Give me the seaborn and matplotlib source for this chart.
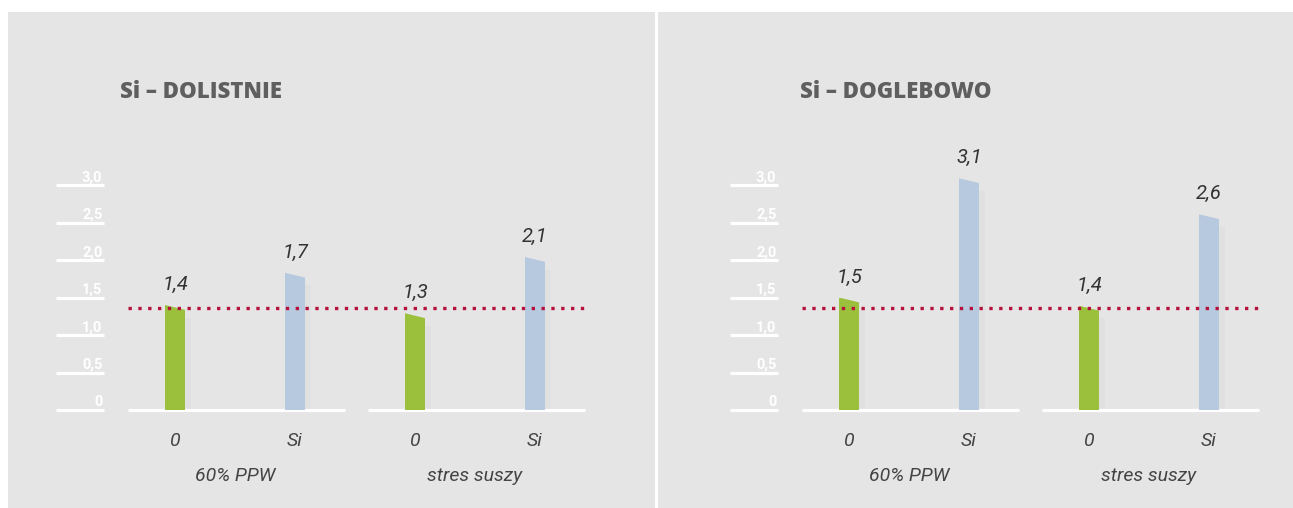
import matplotlib
matplotlib.use("Agg")
import matplotlib.pyplot as plt
from matplotlib.patches import Rectangle, Polygon
import seaborn as sns
import pandas as pd

# ---------------- data ----------------
groups = ["60% PPW", "60% PPW", "stres suszy", "stres suszy"]
treatments = ["0", "Si", "0", "Si"]
titles = ["Si – DOLISTNIE", "Si – DOGLEBOWO"]
heights_dolistnie = [1.40, 1.83, 1.29, 2.04]
heights_doglebowo = [1.50, 3.09, 1.39, 2.61]
labels_dolistnie = ["1,4", "1,7", "1,3", "2,1"]
labels_doglebowo = ["1,5", "3,1", "1,4", "2,6"]
ref_level = 1.36
y_ticks = [0, 0.5, 1.0, 1.5, 2.0, 2.5, 3.0]
y_tick_labels = ["0", "0,5", "1,0", "1,5", "2,0", "2,5", "3,0"]
group_names = ["60% PPW", "stres suszy"]

# ---------------- style ----------------
sns.set_theme(style="white")
plt.rcParams["font.family"] = ["Roboto", "DejaVu Sans"]

BG = "#e5e5e5"
GREEN = "#9bc13c"
BLUE = "#b7c9de"
RED = "#b5113c"
W, H = 1293, 508

fig = plt.figure(figsize=(W / 100, H / 100), dpi=100)
fig.patch.set_facecolor("white")

# panel backgrounds
fig.patches.append(Rectangle((8 / W, 0), 647 / W, (H - 12) / H,
                             transform=fig.transFigure, facecolor=BG,
                             edgecolor="none", zorder=-5))
fig.patches.append(Rectangle((658 / W, 0), (W - 658) / W, (H - 12) / H,
                             transform=fig.transFigure, facecolor=BG,
                             edgecolor="none", zorder=-5))

PX_X = 120.0   # pixels per category step
PX_Y = 75.0    # pixels per value unit
BASE_Y = 410   # pixel row of value 0

panels = [
    dict(left=50, right=620, x0=175, title_x=120,
         heights=heights_dolistnie, labels=labels_dolistnie, title=titles[0]),
    dict(left=722, right=1292, x0=849, title_x=800,
         heights=heights_doglebowo, labels=labels_doglebowo, title=titles[1]),
]

top_px = 130
for p in panels:
    ax = fig.add_axes([p["left"] / W, (H - BASE_Y) / H,
                       (p["right"] - p["left"]) / W, (BASE_Y - top_px) / H])
    ax.set_zorder(2)
    ax.set_facecolor("none")
    cats = [f"{g} · {t}" for g, t in zip(groups, treatments)]
    df = pd.DataFrame({"cat": cats, "treat": treatments, "val": p["heights"]})
    sns.barplot(data=df, x="cat", y="val", hue="treat", order=cats,
                palette={"0": GREEN, "Si": BLUE}, dodge=False,
                width=20 / PX_X, legend=False, ax=ax, zorder=3,
                linewidth=0, saturation=1)
    ax.set_xlim((p["left"] - p["x0"]) / PX_X, (p["right"] - p["x0"]) / PX_X)
    ax.set_ylim(0, (BASE_Y - top_px) / PX_Y)
    ax.set_axis_off()

    # slanted bar tops and soft shadow
    d = 5 / PX_Y
    for patch in list(ax.patches):
        if not isinstance(patch, Rectangle) or patch.get_height() <= 0:
            continue
        x, w, h = patch.get_x(), patch.get_width(), patch.get_height()
        ax.add_patch(Rectangle((x + w, 0), 0.05, h - d - 0.1, facecolor="#e0e0e0",
                               edgecolor="none", zorder=2.5))
        ax.add_patch(Polygon([(x - 0.005, h + 0.01), (x + w + 0.005, h + 0.01),
                              (x + w + 0.005, h - d), (x, h)],
                             closed=True, facecolor=BG, edgecolor="none",
                             zorder=4))

    # y tick lines and labels
    for v, lab in zip(y_ticks, y_tick_labels):
        ax.plot([-0.99, -0.595], [v, v], color="white", lw=2.3,
                solid_capstyle="butt", clip_on=False, zorder=2)
        ax.annotate(lab, xy=(-0.605, v), xytext=(0, 3.5), textcoords="offset pixels",
                    ha="right", va="baseline", color="white", fontsize=10.5,
                    fontweight="bold", annotation_clip=False)

    # baselines per group
    for xa, xb in [(-0.39, 1.42), (1.61, 3.42)]:
        ax.plot([xa, xb], [0, 0], color="white", lw=2.3,
                solid_capstyle="butt", clip_on=False, zorder=2.7)

    # reference dotted line
    ax.plot([-0.39, 3.42], [ref_level, ref_level], color=RED, lw=2.4,
            dashes=(1, 1.95), dash_capstyle="butt", zorder=5, clip_on=False)

    # value labels
    for i, (h, lab) in enumerate(zip(p["heights"], p["labels"])):
        ax.annotate(lab, xy=(i, h), xytext=(0, 15), textcoords="offset pixels",
                    ha="center", va="baseline", color="#333333", fontsize=14.5,
                    style="italic", annotation_clip=False)

    # category labels
    for i, t in enumerate(treatments):
        ax.annotate(t, xy=(i, 0), xytext=(0, -36), textcoords="offset pixels",
                    ha="center", va="baseline", color="#444444", fontsize=14,
                    style="italic", annotation_clip=False)
    for j, g in enumerate(group_names):
        ax.annotate(g, xy=(2 * j + 0.5, 0), xytext=(0, -71), textcoords="offset pixels",
                    ha="center", va="baseline", color="#444444", fontsize=14,
                    style="italic", annotation_clip=False)

    fig.text(p["title_x"] / W, (H - 98) / H, p["title"], ha="left", va="baseline",
             color="#5f5f5f", fontsize=16, fontweight="heavy", family="Open Sans")

fig.savefig("out.png", dpi=100, facecolor="white")
